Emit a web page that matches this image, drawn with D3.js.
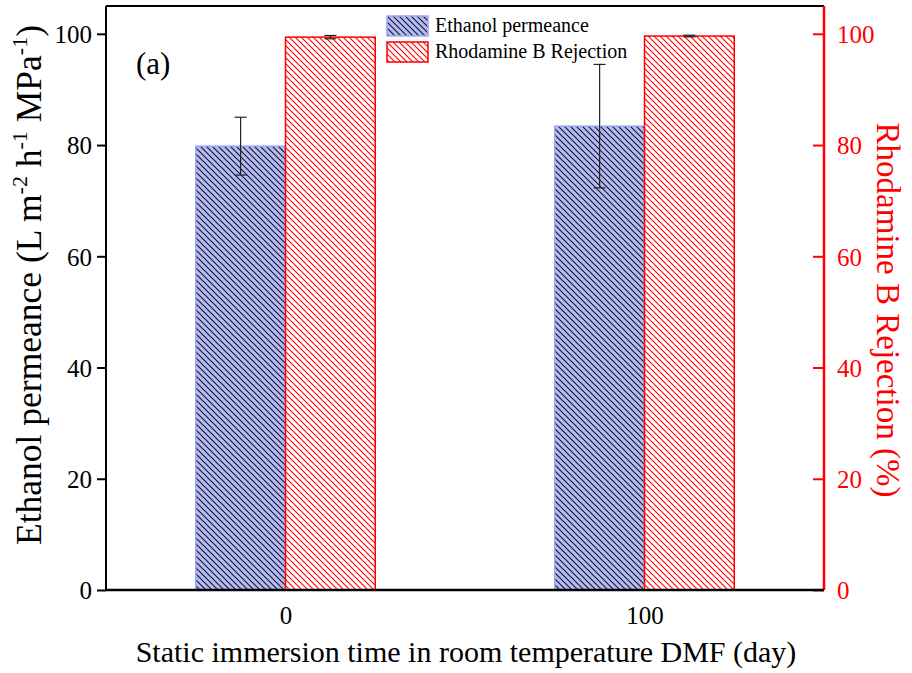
<!DOCTYPE html>
<html>
<head>
<meta charset="utf-8">
<script src="https://cdn.jsdelivr.net/npm/d3@7"></script>
<style>
  body { margin: 0; background: #fff; }
  svg text { font-family: "Liberation Serif", "Times New Roman", "DejaVu Serif", serif !important; }
</style>
</head>
<body>
<script>
'use strict';

// data
const days = [0, 100];
const permeance = [79.8, 83.4];
const permeanceErr = [5.2, 11.1];
const rejection = [99.4, 99.6];
const rejectionErr = [0.3, 0.15];
const yTicks = [0, 20, 40, 60, 80, 100];

const width = 912, height = 673;
const plotLeft = 106, plotRight = 824, plotTop = 6, plotBottom = 590;
const serif = '"Liberation Serif", "Times New Roman", serif';

let svg = d3.select('body').append('svg')
  .attr('width', width)
  .attr('height', height)
  .attr('font-family', serif);

// hatch patterns
let defs = svg.append('defs');
function hatch(id, bg, line, w) {
  let p = defs.append('pattern')
    .attr('id', id)
    .attr('patternUnits', 'userSpaceOnUse')
    .attr('width', 6)
    .attr('height', 6);
  p.append('rect').attr('width', 6).attr('height', 6).attr('fill', bg);
  p.append('path')
    .attr('d', 'M-1,-1 L7,7 M-1,5 L1,7 M5,-1 L7,1')
    .attr('stroke', line)
    .attr('stroke-width', w);
}
hatch('hBlue', '#b4bcf4', '#14142a', 1.1);
hatch('hRed', '#ffffff', '#ff0000', 1.1);

// scales
let x = d3.scaleLinear().domain([-50, 150]).range([plotLeft, plotRight]);
let yL = d3.scaleLinear().domain([0, 105]).range([plotBottom, plotTop]);
let yR = d3.scaleLinear().domain([0, 105]).range([plotBottom, plotTop]);
let barW = x(25) - x(0);

// bars
let g = svg.append('g');
g.selectAll('.perm')
  .data(days)
  .enter().append('rect')
  .attr('x', d => x(d) - barW)
  .attr('y', (d, i) => yL(permeance[i]))
  .attr('width', barW)
  .attr('height', (d, i) => yL(0) - yL(permeance[i]))
  .attr('fill', 'url(#hBlue)')
  .attr('stroke', '#9ea8f2')
  .attr('stroke-width', 1.5);

g.selectAll('.rej')
  .data(days)
  .enter().append('rect')
  .attr('x', d => x(d))
  .attr('y', (d, i) => yR(rejection[i]))
  .attr('width', barW)
  .attr('height', (d, i) => yR(0) - yR(rejection[i]))
  .attr('fill', 'url(#hRed)')
  .attr('stroke', '#ff0000')
  .attr('stroke-width', 1.5);

// error bars
function errBar(cx, y, v, e) {
  let eg = g.append('g').attr('stroke', '#222').attr('stroke-width', 1.2);
  eg.append('line').attr('x1', cx).attr('x2', cx).attr('y1', y(v + e)).attr('y2', y(v - e));
  eg.append('line').attr('x1', cx - 6).attr('x2', cx + 6).attr('y1', y(v + e)).attr('y2', y(v + e));
  eg.append('line').attr('x1', cx - 6).attr('x2', cx + 6).attr('y1', y(v - e)).attr('y2', y(v - e));
}
days.forEach((d, i) => {
  errBar(x(d) - barW / 2, yL, permeance[i], permeanceErr[i]);
  errBar(x(d) + barW / 2, yR, rejection[i], rejectionErr[i]);
});

// frame
svg.append('line').attr('x1', plotLeft).attr('x2', plotRight).attr('y1', plotTop).attr('y2', plotTop)
  .attr('stroke', '#000').attr('stroke-width', 2);

// left axis
let axL = svg.append('g')
  .attr('transform', 'translate(' + plotLeft + ',0)')
  .call(d3.axisLeft(yL).tickValues(yTicks).tickSize(9).tickPadding(5).tickSizeOuter(0));
axL.attr('font-family', serif).attr('font-size', 25);
axL.select('.domain').attr('stroke-width', 2).attr('d', 'M0,' + plotTop + 'V' + plotBottom);
axL.selectAll('.tick line').attr('stroke-width', 2);
axL.selectAll('.tick text').attr('dy', '0.35em');

// right axis
let axR = svg.append('g')
  .attr('transform', 'translate(' + plotRight + ',0)')
  .call(d3.axisRight(yR).tickValues(yTicks).tickSize(0).tickPadding(13).tickSizeOuter(0));
axR.attr('font-family', serif).attr('font-size', 25);
axR.select('.domain').attr('stroke', '#ff0000').attr('stroke-width', 2.5).attr('d', 'M0,' + plotTop + 'V' + plotBottom);
axR.selectAll('.tick').append('line').attr('x1', -11).attr('x2', 0).attr('stroke', '#ff0000').attr('stroke-width', 2);
axR.selectAll('.tick text').attr('fill', '#ff0000').attr('dy', '0.35em');

// bottom axis
let axB = svg.append('g')
  .attr('transform', 'translate(0,' + plotBottom + ')')
  .call(d3.axisBottom(x).tickValues(days).tickSize(0).tickPadding(16).tickSizeOuter(0));
axB.attr('font-family', serif).attr('font-size', 25);
axB.select('.domain').attr('stroke-width', 2.5).attr('d', 'M' + plotLeft + ',0H' + plotRight);
axB.selectAll('.tick text').attr('dy', '0.71em');

// labels
svg.append('text')
  .attr('x', 136).attr('y', 74)
  .style('font-size', '31px')
  .text('(a)');

svg.append('text')
  .attr('text-anchor', 'middle')
  .attr('x', 466).attr('y', 662)
  .style('font-size', '30px')
  .text('Static immersion time in room temperature DMF (day)');

let yl = svg.append('text')
  .attr('text-anchor', 'middle')
  .attr('transform', 'translate(41,285)rotate(-90)')
  .style('font-size', '35.5px');
yl.append('tspan').text('Ethanol permeance (L m');
yl.append('tspan').attr('dy', -14).style('font-size', '22px').text('-2');
yl.append('tspan').attr('dy', 14).text(' h');
yl.append('tspan').attr('dy', -14).style('font-size', '22px').text('-1');
yl.append('tspan').attr('dy', 14).text(' MPa');
yl.append('tspan').attr('dy', -14).style('font-size', '22px').text('-1');
yl.append('tspan').attr('dy', 14).text(')');

svg.append('text')
  .attr('text-anchor', 'middle')
  .attr('transform', 'translate(877,310)rotate(90)')
  .attr('fill', '#ff0000')
  .style('font-size', '33px')
  .text('Rhodamine B Rejection (%)');

// legend
const legendNames = ['Ethanol permeance', 'Rhodamine B Rejection'];
const legendFill = ['url(#hBlue)', 'url(#hRed)'];
const legendStroke = ['#9ea8f2', '#ff0000'];
let lg = svg.append('g').selectAll('g')
  .data(legendNames)
  .enter().append('g')
  .attr('transform', (d, i) => 'translate(387,' + (16 + i * 26) + ')');
lg.append('rect')
  .attr('width', 41).attr('height', 20)
  .attr('fill', (d, i) => legendFill[i])
  .attr('stroke', (d, i) => legendStroke[i])
  .attr('stroke-width', 1.5);
lg.append('text')
  .attr('x', 48).attr('y', 16)
  .style('font-size', '20px')
  .text(d => d);
</script>
</body>
</html>
